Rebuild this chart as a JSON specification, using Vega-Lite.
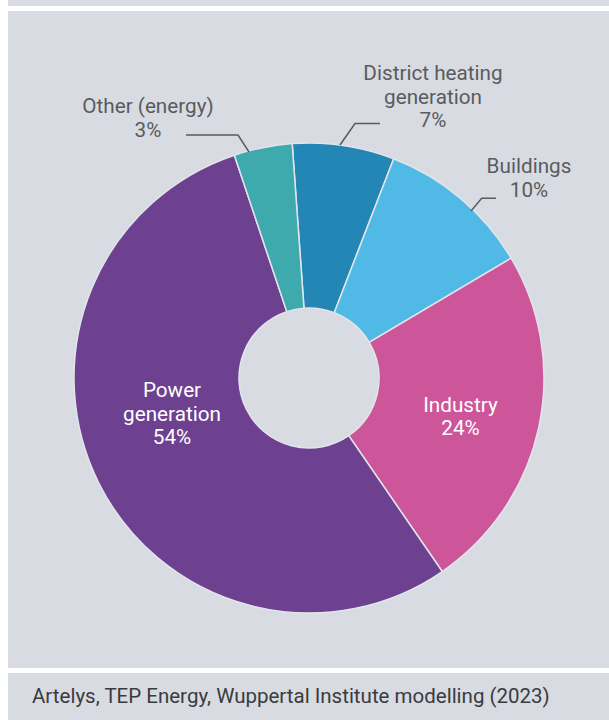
{
  "$schema": "https://vega.github.io/schema/vega-lite/v6.json",
  "background": "white",
  "padding": {"left": 8, "top": 0, "right": 0, "bottom": 0},
  "spacing": 5,
  "config": {
    "view": {"stroke": null, "fill": "#d8dbe2"},
    "font": "Roboto"
  },
  "datasets": {
    "slices": [
      {"sector": "District heating generation", "share": 7.0, "order": 1},
      {"sector": "Buildings", "share": 10.6, "order": 2},
      {"sector": "Industry", "share": 23.9, "order": 3},
      {"sector": "Power generation", "share": 54.4, "order": 4},
      {"sector": "Other (energy)", "share": 4.0, "order": 5}
    ],
    "labels": [
      {"label": "Other (energy)\n3%", "where": "outside", "x": -161, "y": 265},
      {"label": "District heating\ngeneration\n7%", "where": "outside", "x": 124, "y": 298},
      {"label": "Buildings\n10%", "where": "outside", "x": 220, "y": 205},
      {"label": "Power\ngeneration\n54%", "where": "inside", "x": -137, "y": -19},
      {"label": "Industry\n24%", "where": "inside", "x": 151.5, "y": -33.7}
    ],
    "leaders": [
      {"id": "Other (energy)", "k": 1, "x": -123, "y": 243},
      {"id": "Other (energy)", "k": 2, "x": -71, "y": 243},
      {"id": "Other (energy)", "k": 3, "x": -60, "y": 226},
      {"id": "District heating generation", "k": 1, "x": 71, "y": 254.5},
      {"id": "District heating generation", "k": 2, "x": 46, "y": 254.5},
      {"id": "District heating generation", "k": 3, "x": 31, "y": 233},
      {"id": "Buildings", "k": 1, "x": 187, "y": 179.7},
      {"id": "Buildings", "k": 2, "x": 172.7, "y": 179.7},
      {"id": "Buildings", "k": 3, "x": 162, "y": 167}
    ]
  },
  "vconcat": [
    {
      "width": 601,
      "height": 6,
      "data": {"values": [{}]},
      "mark": {"type": "rect", "color": "#d8dbe2"},
      "encoding": {}
    },
    {
      "width": 601,
      "height": 657,
      "layer": [
        {
          "data": {"name": "slices"},
          "mark": {"type": "arc", "innerRadius": 70, "outerRadius": 235, "stroke": "#e2e5ea", "strokeWidth": 1.5},
          "encoding": {
            "theta": {"field": "share", "type": "quantitative", "stack": true, "scale": {"range": [-0.0716, 6.2116]}},
            "order": {"field": "order", "type": "quantitative"},
            "color": {
              "field": "sector",
              "type": "nominal",
              "scale": {
                "domain": ["District heating generation", "Buildings", "Industry", "Power generation", "Other (energy)"],
                "range": ["#2386b4", "#51b9e5", "#cd559a", "#6d4190", "#3eaaae"]
              },
              "legend": null
            },
            "x": {"datum": 0, "type": "quantitative", "scale": {"domain": [-301, 300], "nice": false, "zero": false}, "axis": null},
            "y": {"datum": 0, "type": "quantitative", "scale": {"domain": [-290, 367], "nice": false, "zero": false}, "axis": null}
          }
        },
        {
          "data": {"name": "leaders"},
          "mark": {"type": "line", "color": "#5a5b5e", "strokeWidth": 1.5},
          "encoding": {
            "x": {"field": "x", "type": "quantitative", "scale": {"domain": [-301, 300], "nice": false, "zero": false}, "axis": null},
            "y": {"field": "y", "type": "quantitative", "scale": {"domain": [-290, 367], "nice": false, "zero": false}, "axis": null},
            "detail": {"field": "id", "type": "nominal"},
            "order": {"field": "k", "type": "quantitative"}
          }
        },
        {
          "data": {"name": "labels"},
          "transform": [{"filter": "datum.where === 'outside'"}],
          "mark": {"type": "text", "lineBreak": "\n", "lineHeight": 23.5, "align": "center", "baseline": "alphabetic", "fontSize": 20.7, "color": "#5a5b5e"},
          "encoding": {
            "text": {"field": "label", "type": "nominal"},
            "x": {"field": "x", "type": "quantitative", "scale": {"domain": [-301, 300], "nice": false, "zero": false}, "axis": null},
            "y": {"field": "y", "type": "quantitative", "scale": {"domain": [-290, 367], "nice": false, "zero": false}, "axis": null}
          }
        },
        {
          "data": {"name": "labels"},
          "transform": [{"filter": "datum.where === 'inside'"}],
          "mark": {"type": "text", "lineBreak": "\n", "lineHeight": 23.5, "align": "center", "baseline": "alphabetic", "fontSize": 20.7, "color": "#ffffff"},
          "encoding": {
            "text": {"field": "label", "type": "nominal"},
            "x": {"field": "x", "type": "quantitative", "scale": {"domain": [-301, 300], "nice": false, "zero": false}, "axis": null},
            "y": {"field": "y", "type": "quantitative", "scale": {"domain": [-290, 367], "nice": false, "zero": false}, "axis": null}
          }
        }
      ]
    },
    {
      "width": 601,
      "height": 47,
      "data": {"values": [{"note": "Artelys, TEP Energy, Wuppertal Institute modelling (2023)"}]},
      "mark": {"type": "text", "align": "left", "baseline": "alphabetic", "fontSize": 20.5, "color": "#3a3b3d"},
      "encoding": {
        "text": {"field": "note", "type": "nominal"},
        "x": {"datum": 24, "type": "quantitative", "scale": {"domain": [0, 601], "nice": false, "zero": false}, "axis": null},
        "y": {"datum": 30, "type": "quantitative", "scale": {"domain": [0, 47], "nice": false, "zero": false, "reverse": true}, "axis": null}
      }
    }
  ]
}
